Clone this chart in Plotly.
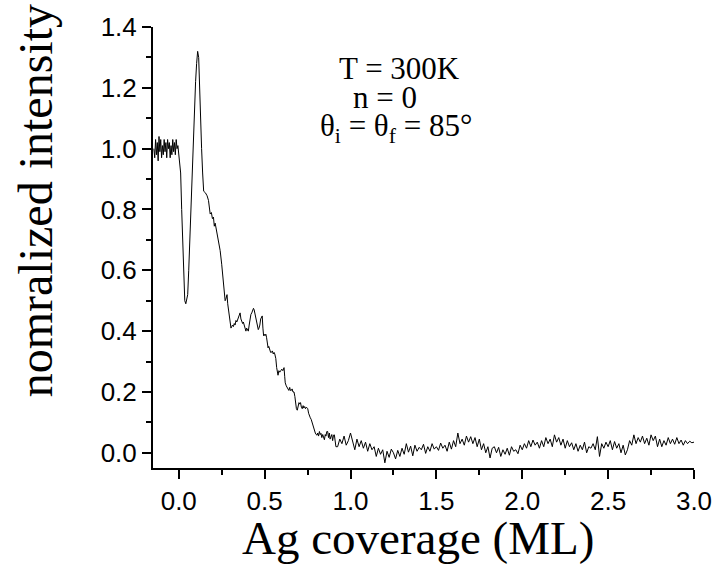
import plotly.graph_objects as go

# ---- data ----
coverage_head = [-0.145, -0.140, -0.135, -0.130, -0.125, -0.120, -0.115, -0.110, -0.105, -0.100,
                 -0.095, -0.090, -0.085, -0.080, -0.075, -0.070, -0.065, -0.060, -0.055, -0.050,
                 -0.045, -0.040, -0.035, -0.030, -0.025, -0.020, -0.015, -0.010, -0.005, 0.000,
                 0.005]
intensity_head = [1.00, 0.97, 1.03, 0.98, 1.02, 0.96, 1.04, 0.99, 1.03, 0.97,
                  1.01, 0.98, 1.03, 0.99, 1.02, 0.97, 1.03, 1.00, 1.02, 0.97,
                  1.01, 0.98, 1.03, 0.99, 1.02, 0.98, 1.03, 1.00, 1.01, 0.98,
                  0.97]

coverage_peak = [0.011, 0.017, 0.026, 0.035, 0.041, 0.046, 0.052, 0.058, 0.064, 0.070,
                 0.075, 0.081, 0.087, 0.093, 0.098, 0.104, 0.110, 0.116, 0.120, 0.124,
                 0.129, 0.133, 0.139, 0.145]
intensity_peak = [0.92, 0.80, 0.62, 0.50, 0.49, 0.50, 0.52, 0.60, 0.70, 0.79,
                  0.88, 0.97, 1.05, 1.14, 1.22, 1.28, 1.32, 1.30, 1.22, 1.13,
                  1.06, 1.00, 0.92, 0.86]

coverage_decay = [0.155, 0.165, 0.173, 0.178, 0.183, 0.190, 0.196, 0.202, 0.207, 0.212,
                  0.217, 0.222, 0.231, 0.241, 0.250, 0.260, 0.266, 0.270, 0.274, 0.281,
                  0.285, 0.289, 0.294, 0.299, 0.304, 0.308, 0.313, 0.318, 0.323, 0.328,
                  0.333, 0.338, 0.343, 0.347, 0.352, 0.357, 0.362, 0.367, 0.372, 0.376,
                  0.381, 0.386, 0.391, 0.395, 0.400, 0.405, 0.410, 0.415, 0.420, 0.425,
                  0.430, 0.435, 0.439, 0.444, 0.449, 0.453, 0.458, 0.463, 0.467, 0.472,
                  0.477, 0.482, 0.486, 0.490, 0.494, 0.497, 0.502, 0.507, 0.511, 0.516,
                  0.520, 0.524, 0.530, 0.535, 0.539, 0.545, 0.550, 0.555, 0.559, 0.565,
                  0.570, 0.574, 0.578, 0.583, 0.588, 0.594, 0.600, 0.606, 0.613, 0.617,
                  0.620, 0.626, 0.631, 0.636, 0.641, 0.646, 0.650, 0.655, 0.660, 0.665,
                  0.671, 0.676, 0.680, 0.685, 0.690, 0.695, 0.700, 0.705, 0.709, 0.714,
                  0.719, 0.724, 0.728, 0.733, 0.738, 0.743, 0.747, 0.751, 0.756, 0.761,
                  0.766, 0.771, 0.776, 0.781, 0.786, 0.790, 0.795, 0.800, 0.805, 0.809,
                  0.814, 0.819, 0.824, 0.828, 0.833, 0.838, 0.843, 0.848, 0.853, 0.857,
                  0.862, 0.867, 0.872, 0.877, 0.881, 0.886, 0.891, 0.896, 0.901, 0.906,
                  0.910, 0.915]
intensity_decay = [0.855, 0.845, 0.83, 0.80, 0.785, 0.79, 0.77, 0.775, 0.745, 0.755,
                   0.74, 0.735, 0.70, 0.665, 0.62, 0.565, 0.51, 0.50, 0.505, 0.52,
                   0.49, 0.47, 0.45, 0.44, 0.41, 0.415, 0.42, 0.415, 0.425, 0.42,
                   0.435, 0.43, 0.44, 0.445, 0.455, 0.46, 0.44, 0.435, 0.425, 0.43,
                   0.42, 0.415, 0.40, 0.41, 0.405, 0.40, 0.42, 0.44, 0.455, 0.46,
                   0.465, 0.475, 0.47, 0.455, 0.44, 0.435, 0.42, 0.405, 0.41, 0.42,
                   0.44, 0.445, 0.45, 0.41, 0.385, 0.39, 0.385, 0.39, 0.38, 0.36,
                   0.345, 0.35, 0.335, 0.33, 0.33, 0.335, 0.325, 0.33, 0.325, 0.31,
                   0.28, 0.265, 0.255, 0.27, 0.265, 0.27, 0.275, 0.27, 0.28, 0.25,
                   0.23, 0.22, 0.215, 0.21, 0.205, 0.215, 0.205, 0.205, 0.21, 0.20,
                   0.20, 0.185, 0.16, 0.145, 0.14, 0.15, 0.165, 0.16, 0.165, 0.15,
                   0.145, 0.155, 0.147, 0.152, 0.145, 0.15, 0.145, 0.145, 0.13, 0.12,
                   0.115, 0.11, 0.10, 0.085, 0.08, 0.075, 0.065, 0.06, 0.058, 0.065,
                   0.055, 0.07, 0.06, 0.064, 0.05, 0.06, 0.045, 0.043, 0.06, 0.055,
                   0.07, 0.07, 0.05, 0.065, 0.045, 0.053, 0.06, 0.04, 0.058, 0.059,
                   0.035, 0.02]

coverage_tail = [0.925, 0.9375, 0.95, 0.9625, 0.975, 0.9875, 1.0,
                 1.0125, 1.025, 1.0375, 1.05, 1.0625, 1.075, 1.0875, 1.1,
                 1.1125, 1.125, 1.1375, 1.15, 1.1625, 1.175, 1.1875, 1.2,
                 1.2125, 1.225, 1.2375, 1.25, 1.2625, 1.275, 1.2875, 1.3,
                 1.3125, 1.325, 1.3375, 1.35, 1.3625, 1.375, 1.3875, 1.4,
                 1.4125, 1.425, 1.4375, 1.45, 1.4625, 1.475, 1.4875, 1.5,
                 1.5125, 1.525, 1.5375, 1.55, 1.5625, 1.575, 1.5875, 1.6,
                 1.6125, 1.625, 1.6375, 1.65, 1.6625, 1.675, 1.6875, 1.7,
                 1.7125, 1.725, 1.7375, 1.75, 1.7625, 1.775, 1.7875, 1.8,
                 1.8125, 1.825, 1.8375, 1.85, 1.8625, 1.875, 1.8875, 1.9,
                 1.9125, 1.925, 1.9375, 1.95, 1.9625, 1.975, 1.9875, 2.0,
                 2.0125, 2.025, 2.0375, 2.05, 2.0625, 2.075, 2.0875, 2.1,
                 2.1125, 2.125, 2.1375, 2.15, 2.1625, 2.175, 2.1875, 2.2,
                 2.2125, 2.225, 2.2375, 2.25, 2.2625, 2.275, 2.2875, 2.3,
                 2.3125, 2.325, 2.3375, 2.35, 2.3625, 2.375, 2.3875, 2.4,
                 2.4125, 2.425, 2.4375, 2.45, 2.4625, 2.475, 2.4875, 2.5,
                 2.5125, 2.525, 2.5375, 2.55, 2.5625, 2.575, 2.5875, 2.6,
                 2.6125, 2.625, 2.6375, 2.65, 2.6625, 2.675, 2.6875, 2.7,
                 2.7125, 2.725, 2.7375, 2.75, 2.7625, 2.775, 2.7875, 2.8,
                 2.8125, 2.825, 2.8375, 2.85, 2.8625, 2.875, 2.8875, 2.9,
                 2.9125, 2.925, 2.9375, 2.95, 2.9625, 2.975, 2.9875, 3.0]
intensity_tail = [0.020, 0.045, 0.030, 0.055, 0.025, 0.040, 0.065,
                  0.035, 0.010, 0.045, 0.020, 0.040, 0.015, 0.035, 0.005,
                  0.030, 0.010, 0.020, -0.012, 0.015, -0.005, 0.010, -0.033,
                  0.005, -0.015, 0.012, 0.000, -0.020, 0.008, -0.012, 0.015,
                  -0.005, 0.030, 0.002, 0.022, -0.010, 0.025, 0.005, 0.018,
                  0.010, 0.028, -0.002, 0.020, 0.005, 0.030, 0.012, 0.020,
                  0.008, 0.032, 0.015, 0.025, 0.005, 0.035, 0.012, 0.040,
                  0.020, 0.065, 0.030, 0.045, 0.025, 0.055, 0.035, 0.053,
                  0.030, 0.050, 0.020, 0.045, 0.010, 0.030, 0.000, 0.020,
                  -0.017, 0.015, 0.020, 0.000, 0.018, -0.012, 0.010, -0.005,
                  0.015, -0.008, 0.020, 0.005, 0.010, -0.003, 0.025, 0.010,
                  0.030, 0.015, 0.040, 0.020, 0.042, 0.025, 0.035, 0.015,
                  0.040, 0.020, 0.050, 0.030, 0.045, 0.020, 0.059, 0.035,
                  0.050, 0.025, 0.045, 0.015, 0.040, 0.020, 0.033, 0.010,
                  0.030, 0.005, 0.025, 0.010, 0.035, 0.000, 0.020, 0.015,
                  0.030, 0.010, 0.053, -0.012, 0.030, 0.015, 0.035, 0.020,
                  0.040, 0.010, 0.037, 0.015, 0.030, 0.000, 0.025, -0.007,
                  0.010, 0.040, 0.025, 0.059, 0.030, 0.050, 0.035, 0.055,
                  0.030, 0.048, 0.025, 0.059, 0.040, 0.055, 0.020, 0.045,
                  0.020, 0.040, 0.025, 0.050, 0.030, 0.045, 0.028, 0.050,
                  0.030, 0.042, 0.025, 0.040, 0.030, 0.038, 0.033, 0.035]

coverage = coverage_head + coverage_peak + coverage_decay + coverage_tail
intensity = intensity_head + intensity_peak + intensity_decay + intensity_tail

x_range = [-0.15, 3.0]
y_range = [-0.05, 1.4]
x_ticks = [0.0, 0.5, 1.0, 1.5, 2.0, 2.5, 3.0]
x_tick_labels = ["0.0", "0.5", "1.0", "1.5", "2.0", "2.5", "3.0"]
y_ticks = [0.0, 0.2, 0.4, 0.6, 0.8, 1.0, 1.2, 1.4]
y_tick_labels = ["0.0", "0.2", "0.4", "0.6", "0.8", "1.0", "1.2", "1.4"]

x_title = "Ag coverage (ML)"
y_title = "nomralized intensity"
notes = ["T = 300K", "n = 0", "θ<sub>i</sub> = θ<sub>f</sub> = 85°"]

SERIF = "Liberation Serif, Times New Roman, serif"
SANS = "Liberation Sans, Arial, sans-serif"

fig = go.Figure()
fig.add_trace(go.Scatter(x=coverage, y=intensity, mode="lines",
                         line=dict(color="black", width=1), showlegend=False,
                         hoverinfo="skip"))

axis_common = dict(showgrid=False, zeroline=False, showline=True, linecolor="black",
                   linewidth=2)

fig.update_layout(
    width=724, height=567,
    margin=dict(l=153, r=25, t=25, b=99),
    paper_bgcolor="white", plot_bgcolor="white",
    xaxis=dict(range=x_range, tickmode="array", tickvals=x_ticks, ticktext=x_tick_labels,
               ticks="outside", ticklen=9, tickwidth=2, tickcolor="black",
               tickfont=dict(family=SANS, size=26, color="black"),
               minor=dict(dtick=0.25, tick0=0, ticks="outside", ticklen=5, tickwidth=2,
                          tickcolor="black"),
               **axis_common),
    yaxis=dict(range=y_range, tickmode="array", tickvals=y_ticks, ticktext=y_tick_labels,
               ticks="outside", ticklen=9, tickwidth=2, tickcolor="black",
               tickfont=dict(family=SANS, size=26, color="black"),
               minor=dict(dtick=0.1, tick0=0, ticks="outside", ticklen=5, tickwidth=2,
                          tickcolor="black"),
               **axis_common),
    xaxis2=dict(range=x_range, overlaying="x", side="top", anchor="y",
                tickmode="array", tickvals=x_ticks, showticklabels=False,
                ticks="inside", ticklen=3, tickwidth=1, tickcolor="black",
                minor=dict(dtick=0.25, tick0=0, ticks="inside", ticklen=2, tickwidth=1,
                           tickcolor="black"),
                **axis_common),
    yaxis2=dict(range=y_range, overlaying="y", side="right", anchor="x",
                tickmode="array", tickvals=y_ticks, showticklabels=False,
                ticks="inside", ticklen=4, tickwidth=1, tickcolor="black",
                minor=dict(dtick=0.1, tick0=0, ticks="inside", ticklen=3, tickwidth=1,
                           tickcolor="black"),
                **axis_common),
)

# axis titles
fig.add_annotation(text=x_title, xref="paper", yref="paper", x=0.49, y=-0.158,
                   xanchor="center", yanchor="middle", showarrow=False,
                   font=dict(family=SERIF, size=47, color="black"))
fig.add_annotation(text=y_title, xref="paper", yref="paper", x=-0.218, y=0.605,
                   xanchor="center", yanchor="middle", textangle=-90, showarrow=False,
                   font=dict(family=SERIF, size=48, color="black"))

# in-plot notes
note_pos = [(0.455, 0.905), (0.428, 0.84), (0.45, 0.77)]
for txt, (px, py) in zip(notes, note_pos):
    fig.add_annotation(text=txt, xref="paper", yref="paper", x=px, y=py,
                       xanchor="center", yanchor="middle", showarrow=False,
                       font=dict(family=SERIF, size=31, color="black"))

fig.write_html("out.html")
